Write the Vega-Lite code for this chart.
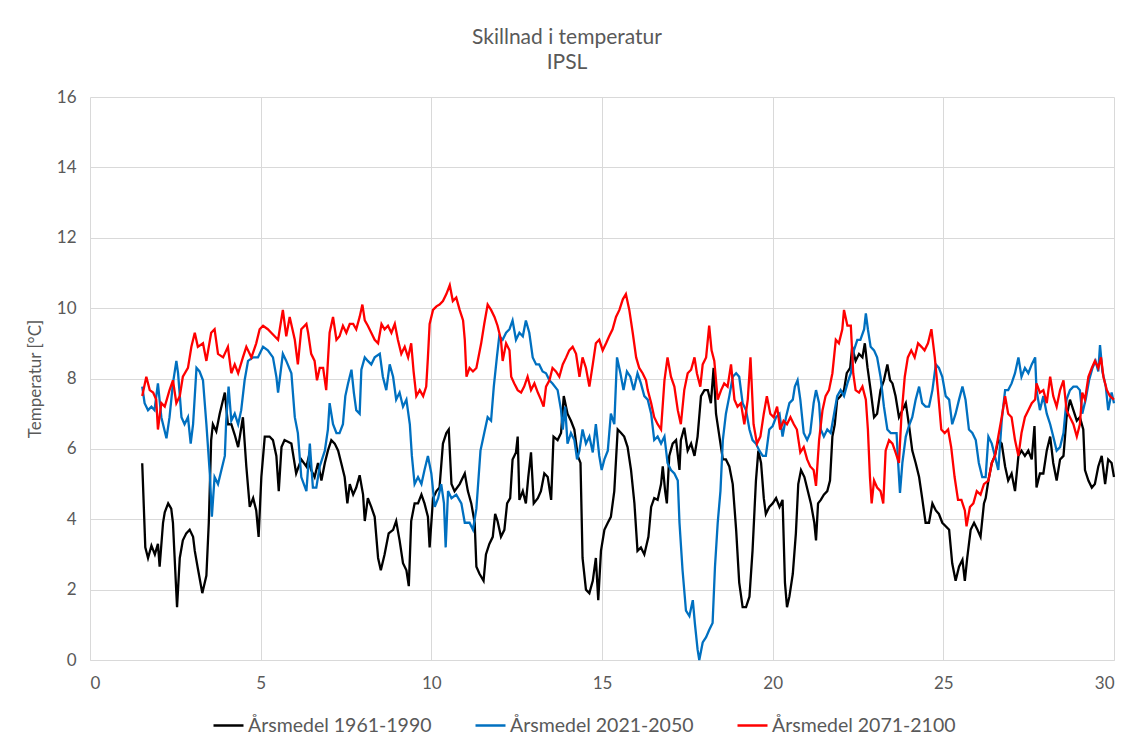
{
  "$schema": "https://vega.github.io/schema/vega-lite/v6.json",
  "width": 1024,
  "height": 563,
  "autosize": {"type": "none"},
  "padding": {"left": 90, "top": 97, "right": 16, "bottom": 85},
  "background": "white",
  "title": {"text": ["Skillnad i temperatur", "IPSL"], "font": "Lato", "fontSize": 21, "fontWeight": "normal", "color": "#595959", "anchor": "middle", "dx": -35, "offset": 15, "lineHeight": 25},
  "config": {
    "view": {"stroke": null},
    "axis": {"labelFont": "Lato", "labelFontSize": 17, "labelColor": "#595959", "gridColor": "#d9d9d9", "gridWidth": 1, "ticks": false, "titleFont": "Lato", "titleFontWeight": "normal", "titleColor": "#595959"},
    "legend": {"labelFont": "Lato", "labelFontSize": 19.5, "labelColor": "#595959", "labelLimit": 400}
  },
  "datasets": {
    "a": [
      {"x":1.53,"y":5.59},{"x":1.62,"y":3.2},{"x":1.70,"y":2.9},{"x":1.80,"y":3.25},{"x":1.90,"y":3.0},{"x":1.99,"y":3.3},{"x":2.04,"y":2.65},{"x":2.14,"y":3.9},{"x":2.19,"y":4.2},{"x":2.29,"y":4.45},{"x":2.38,"y":4.3},{"x":2.43,"y":3.9},{"x":2.48,"y":2.9},{"x":2.55,"y":1.5},{"x":2.63,"y":2.9},{"x":2.72,"y":3.4},{"x":2.82,"y":3.6},{"x":2.92,"y":3.7},{"x":3.02,"y":3.5},{"x":3.07,"y":3.1},{"x":3.16,"y":2.6},{"x":3.29,"y":1.9},{"x":3.41,"y":2.4},{"x":3.48,"y":3.9},{"x":3.55,"y":6.25},{"x":3.60,"y":6.7},{"x":3.70,"y":6.5},{"x":3.80,"y":7.0},{"x":3.95,"y":7.6},{"x":4.04,"y":6.7},{"x":4.14,"y":6.7},{"x":4.24,"y":6.4},{"x":4.34,"y":6.05},{"x":4.48,"y":6.9},{"x":4.58,"y":5.5},{"x":4.68,"y":4.35},{"x":4.78,"y":4.6},{"x":4.87,"y":4.25},{"x":4.94,"y":3.5},{"x":5.02,"y":5.2},{"x":5.12,"y":6.35},{"x":5.26,"y":6.35},{"x":5.36,"y":6.25},{"x":5.46,"y":5.8},{"x":5.53,"y":4.8},{"x":5.61,"y":6.05},{"x":5.70,"y":6.25},{"x":5.90,"y":6.15},{"x":6.04,"y":5.3},{"x":6.19,"y":5.7},{"x":6.34,"y":5.5},
      {"x":6.39,"y":5.7},{"x":6.48,"y":5.4},{"x":6.58,"y":5.2},{"x":6.68,"y":5.6},{"x":6.78,"y":5.1},{"x":6.88,"y":5.6},{"x":6.97,"y":5.95},{"x":7.07,"y":6.25},{"x":7.17,"y":6.15},{"x":7.27,"y":5.95},{"x":7.36,"y":5.6},{"x":7.46,"y":5.2},{"x":7.54,"y":4.45},{"x":7.61,"y":5.0},{"x":7.71,"y":4.7},{"x":7.80,"y":4.9},{"x":7.90,"y":5.25},{"x":8.00,"y":4.7},{"x":8.05,"y":3.95},{"x":8.14,"y":4.6},{"x":8.24,"y":4.35},{"x":8.34,"y":4.07},{"x":8.44,"y":2.9},{"x":8.52,"y":2.55},{"x":8.63,"y":3.0},{"x":8.75,"y":3.6},{"x":8.88,"y":3.7},{"x":8.97,"y":3.95},{"x":9.07,"y":3.4},{"x":9.17,"y":2.75},{"x":9.27,"y":2.55},{"x":9.34,"y":2.1},{"x":9.41,"y":3.95},{"x":9.51,"y":4.45},{"x":9.61,"y":4.45},{"x":9.71,"y":4.7},{"x":9.80,"y":4.45},{"x":9.90,"y":4.07},{"x":9.95,"y":3.2},{"x":10.05,"y":4.6},{"x":10.15,"y":4.8},{"x":10.24,"y":4.9},{"x":10.34,"y":6.15},{"x":10.44,"y":6.45},{"x":10.51,"y":6.55},{"x":10.59,"y":5.0},{"x":10.68,"y":4.8},{"x":10.83,"y":5.0},{"x":10.98,"y":5.3},{"x":11.07,"y":4.8},{"x":11.17,"y":4.45},{"x":11.27,"y":3.9},{"x":11.32,"y":2.65},
      {"x":11.41,"y":2.45},{"x":11.53,"y":2.25},{"x":11.60,"y":3.0},{"x":11.70,"y":3.3},{"x":11.80,"y":3.5},{"x":11.87,"y":4.15},{"x":11.94,"y":3.95},{"x":12.04,"y":3.5},{"x":12.14,"y":3.7},{"x":12.22,"y":4.45},{"x":12.31,"y":4.6},{"x":12.38,"y":5.7},{"x":12.48,"y":5.9},{"x":12.53,"y":6.35},{"x":12.58,"y":4.55},{"x":12.68,"y":4.8},{"x":12.77,"y":4.45},{"x":12.84,"y":5.2},{"x":12.92,"y":5.9},{"x":13.00,"y":4.45},{"x":13.12,"y":4.6},{"x":13.21,"y":4.8},{"x":13.31,"y":5.3},{"x":13.41,"y":5.2},{"x":13.51,"y":4.55},{"x":13.58,"y":6.35},{"x":13.70,"y":6.25},{"x":13.80,"y":6.45},{"x":13.88,"y":7.5},{"x":13.99,"y":7.0},{"x":14.09,"y":6.8},{"x":14.19,"y":6.55},{"x":14.29,"y":5.8},{"x":14.37,"y":5.6},{"x":14.43,"y":2.9},{"x":14.53,"y":2.0},{"x":14.63,"y":1.9},{"x":14.73,"y":2.25},{"x":14.82,"y":2.9},{"x":14.89,"y":1.7},{"x":14.97,"y":3.1},{"x":15.07,"y":3.7},{"x":15.17,"y":3.9},{"x":15.26,"y":4.07},{"x":15.36,"y":4.8},{"x":15.46,"y":6.55},{"x":15.56,"y":6.45},{"x":15.65,"y":6.35},{"x":15.75,"y":6.05},{"x":15.85,"y":5.4},{"x":15.95,"y":4.45},{"x":16.04,"y":3.1},{"x":16.14,"y":3.2},{"x":16.24,"y":3.0},
      {"x":16.36,"y":3.5},{"x":16.44,"y":4.35},{"x":16.53,"y":4.6},{"x":16.63,"y":4.55},{"x":16.73,"y":5.0},{"x":16.78,"y":5.5},{"x":16.85,"y":4.8},{"x":16.90,"y":4.45},{"x":16.97,"y":5.8},{"x":17.07,"y":6.15},{"x":17.17,"y":6.25},{"x":17.27,"y":5.4},{"x":17.31,"y":6.25},{"x":17.41,"y":6.6},{"x":17.51,"y":5.95},{"x":17.61,"y":6.15},{"x":17.71,"y":5.8},{"x":17.80,"y":6.35},{"x":17.90,"y":7.5},{"x":18.00,"y":7.67},{"x":18.10,"y":7.67},{"x":18.19,"y":7.3},{"x":18.27,"y":8.3},{"x":18.34,"y":7.0},{"x":18.44,"y":6.35},{"x":18.54,"y":5.7},{"x":18.63,"y":5.7},{"x":18.73,"y":5.5},{"x":18.83,"y":5.0},{"x":18.93,"y":3.7},{"x":19.02,"y":2.2},{"x":19.12,"y":1.5},{"x":19.22,"y":1.5},{"x":19.32,"y":1.8},{"x":19.41,"y":3.1},{"x":19.51,"y":5.1},{"x":19.58,"y":5.95},{"x":19.66,"y":5.6},{"x":19.74,"y":4.6},{"x":19.80,"y":4.15},{"x":19.90,"y":4.35},{"x":20.00,"y":4.45},{"x":20.10,"y":4.6},{"x":20.20,"y":4.35},{"x":20.29,"y":4.55},{"x":20.36,"y":2.2},{"x":20.42,"y":1.5},{"x":20.49,"y":1.8},{"x":20.59,"y":2.45},{"x":20.68,"y":3.6},{"x":20.75,"y":5.0},{"x":20.83,"y":5.4},{"x":20.93,"y":5.2},{"x":21.03,"y":4.8},{"x":21.12,"y":4.45},{"x":21.22,"y":3.9},{"x":21.27,"y":3.4},
      {"x":21.33,"y":4.45},{"x":21.41,"y":4.55},{"x":21.50,"y":4.7},{"x":21.60,"y":4.8},{"x":21.68,"y":5.1},{"x":21.75,"y":6.35},{"x":21.82,"y":6.7},{"x":21.89,"y":7.4},{"x":21.99,"y":7.5},{"x":22.09,"y":7.67},{"x":22.17,"y":8.15},{"x":22.27,"y":8.3},{"x":22.33,"y":8.9},{"x":22.43,"y":8.5},{"x":22.53,"y":8.7},{"x":22.63,"y":8.6},{"x":22.70,"y":9.0},{"x":22.78,"y":8.3},{"x":22.87,"y":7.67},{"x":22.97,"y":6.9},{"x":23.06,"y":7.0},{"x":23.16,"y":7.67},{"x":23.26,"y":7.95},{"x":23.36,"y":8.4},{"x":23.44,"y":7.95},{"x":23.51,"y":7.86},{"x":23.60,"y":7.5},{"x":23.70,"y":6.9},{"x":23.80,"y":7.1},{"x":23.90,"y":7.3},{"x":23.99,"y":6.7},{"x":24.09,"y":5.95},{"x":24.19,"y":5.6},{"x":24.29,"y":5.2},{"x":24.38,"y":4.6},{"x":24.48,"y":3.9},{"x":24.58,"y":3.9},{"x":24.68,"y":4.45},{"x":24.78,"y":4.25},{"x":24.87,"y":4.15},{"x":24.97,"y":3.9},{"x":25.07,"y":3.8},{"x":25.17,"y":3.7},{"x":25.26,"y":2.75},{"x":25.36,"y":2.25},{"x":25.46,"y":2.65},{"x":25.56,"y":2.85},{"x":25.63,"y":2.25},{"x":25.70,"y":2.9},{"x":25.80,"y":3.7},{"x":25.90,"y":3.9},{"x":26.00,"y":3.7},{"x":26.09,"y":3.5},{"x":26.19,"y":4.45},{"x":26.24,"y":4.6},
      {"x":26.32,"y":5.1},{"x":26.42,"y":5.6},{"x":26.51,"y":5.8},{"x":26.61,"y":6.25},{"x":26.71,"y":6.15},{"x":26.81,"y":5.5},{"x":26.90,"y":5.1},{"x":27.00,"y":5.3},{"x":27.10,"y":4.8},{"x":27.20,"y":5.8},{"x":27.29,"y":5.95},{"x":27.39,"y":5.8},{"x":27.49,"y":5.95},{"x":27.59,"y":5.7},{"x":27.67,"y":6.65},{"x":27.73,"y":4.9},{"x":27.83,"y":5.3},{"x":27.93,"y":5.3},{"x":28.03,"y":5.95},{"x":28.13,"y":6.35},{"x":28.22,"y":5.6},{"x":28.32,"y":5.1},{"x":28.42,"y":5.7},{"x":28.52,"y":5.8},{"x":28.61,"y":6.9},{"x":28.71,"y":7.4},{"x":28.81,"y":7.1},{"x":28.91,"y":6.8},{"x":29.00,"y":6.9},{"x":29.10,"y":6.55},{"x":29.15,"y":5.4},{"x":29.25,"y":5.1},{"x":29.35,"y":4.9},{"x":29.44,"y":5.0},{"x":29.54,"y":5.5},{"x":29.64,"y":5.8},{"x":29.74,"y":5.0},{"x":29.83,"y":5.7},{"x":29.93,"y":5.6},{"x":30.00,"y":5.2}
    ],
    "b": [
      {"x":1.53,"y":7.77},{"x":1.60,"y":7.3},{"x":1.70,"y":7.1},{"x":1.80,"y":7.2},{"x":1.89,"y":7.1},{"x":1.99,"y":7.86},{"x":2.09,"y":6.9},{"x":2.19,"y":6.5},{"x":2.24,"y":6.3},{"x":2.33,"y":6.9},{"x":2.43,"y":7.86},{"x":2.53,"y":8.5},{"x":2.58,"y":8.15},{"x":2.68,"y":6.9},{"x":2.77,"y":6.7},{"x":2.87,"y":6.9},{"x":2.95,"y":6.15},{"x":3.02,"y":6.7},{"x":3.12,"y":8.3},{"x":3.21,"y":8.2},{"x":3.31,"y":7.95},{"x":3.41,"y":6.7},{"x":3.51,"y":5.3},{"x":3.57,"y":4.07},{"x":3.65,"y":5.2},{"x":3.75,"y":5.0},{"x":3.85,"y":5.4},{"x":3.95,"y":5.8},{"x":3.99,"y":6.8},{"x":4.06,"y":7.77},{"x":4.14,"y":6.8},{"x":4.24,"y":7.0},{"x":4.34,"y":6.7},{"x":4.43,"y":7.1},{"x":4.53,"y":7.95},{"x":4.63,"y":8.5},{"x":4.78,"y":8.6},{"x":4.92,"y":8.6},{"x":5.07,"y":8.9},{"x":5.21,"y":8.8},{"x":5.36,"y":8.6},{"x":5.46,"y":8.05},{"x":5.51,"y":7.6},{"x":5.65,"y":8.7},{"x":5.75,"y":8.5},{"x":5.90,"y":8.15},{"x":6.00,"y":6.9},{"x":6.09,"y":6.45},{"x":6.19,"y":5.2},{"x":6.34,"y":4.8},
      {"x":6.44,"y":6.15},{"x":6.53,"y":4.9},{"x":6.63,"y":4.9},{"x":6.73,"y":5.5},{"x":6.88,"y":5.95},{"x":6.97,"y":6.55},{"x":7.02,"y":7.3},{"x":7.12,"y":6.7},{"x":7.22,"y":6.45},{"x":7.31,"y":6.45},{"x":7.41,"y":6.7},{"x":7.48,"y":7.5},{"x":7.56,"y":7.86},{"x":7.66,"y":8.25},{"x":7.73,"y":7.6},{"x":7.80,"y":7.1},{"x":7.90,"y":7.0},{"x":7.95,"y":8.25},{"x":8.05,"y":8.6},{"x":8.14,"y":8.5},{"x":8.24,"y":8.4},{"x":8.34,"y":8.6},{"x":8.49,"y":8.7},{"x":8.58,"y":8.05},{"x":8.68,"y":7.67},{"x":8.78,"y":8.4},{"x":8.88,"y":8.05},{"x":8.97,"y":7.4},{"x":9.07,"y":7.6},{"x":9.17,"y":7.2},{"x":9.27,"y":7.4},{"x":9.37,"y":6.7},{"x":9.43,"y":5.8},{"x":9.51,"y":5.0},{"x":9.61,"y":5.2},{"x":9.71,"y":5.0},{"x":9.80,"y":5.4},{"x":9.90,"y":5.8},{"x":10.00,"y":5.3},{"x":10.10,"y":4.35},{"x":10.20,"y":4.6},{"x":10.29,"y":5.0},{"x":10.37,"y":4.45},{"x":10.42,"y":3.2},{"x":10.49,"y":4.8},{"x":10.59,"y":4.6},{"x":10.73,"y":4.7},{"x":10.88,"y":4.45},{"x":10.98,"y":3.9},{"x":11.12,"y":3.9},{"x":11.22,"y":3.7},{"x":11.32,"y":4.3},
      {"x":11.44,"y":5.95},{"x":11.55,"y":6.45},{"x":11.65,"y":6.9},{"x":11.75,"y":6.8},{"x":11.83,"y":7.77},{"x":11.92,"y":8.6},{"x":11.99,"y":9.2},{"x":12.09,"y":9.1},{"x":12.19,"y":9.3},{"x":12.29,"y":9.4},{"x":12.38,"y":9.65},{"x":12.48,"y":9.1},{"x":12.58,"y":9.3},{"x":12.68,"y":9.2},{"x":12.77,"y":9.65},{"x":12.87,"y":9.3},{"x":12.97,"y":8.6},{"x":13.07,"y":8.4},{"x":13.16,"y":8.4},{"x":13.26,"y":8.2},{"x":13.36,"y":8.15},{"x":13.46,"y":7.95},{"x":13.55,"y":7.86},{"x":13.70,"y":7.67},{"x":13.80,"y":7.1},{"x":13.85,"y":6.55},{"x":13.92,"y":7.2},{"x":13.99,"y":6.15},{"x":14.09,"y":6.45},{"x":14.19,"y":6.25},{"x":14.27,"y":5.7},{"x":14.34,"y":5.95},{"x":14.43,"y":6.55},{"x":14.53,"y":6.15},{"x":14.63,"y":6.35},{"x":14.73,"y":5.9},{"x":14.82,"y":6.7},{"x":14.92,"y":5.8},{"x":14.99,"y":5.4},{"x":15.07,"y":5.7},{"x":15.17,"y":5.95},{"x":15.26,"y":7.0},{"x":15.36,"y":6.7},{"x":15.44,"y":8.6},{"x":15.54,"y":8.15},{"x":15.63,"y":7.67},{"x":15.73,"y":8.2},{"x":15.83,"y":8.05},{"x":15.93,"y":7.67},{"x":16.04,"y":8.15},{"x":16.14,"y":7.86},{"x":16.24,"y":7.5},
      {"x":16.34,"y":7.4},{"x":16.44,"y":7.0},{"x":16.53,"y":6.25},{"x":16.63,"y":6.35},{"x":16.73,"y":6.15},{"x":16.83,"y":6.35},{"x":16.92,"y":5.6},{"x":17.02,"y":5.4},{"x":17.12,"y":5.3},{"x":17.22,"y":5.1},{"x":17.27,"y":3.9},{"x":17.36,"y":2.55},{"x":17.46,"y":1.4},{"x":17.56,"y":1.25},{"x":17.66,"y":1.7},{"x":17.72,"y":1.05},{"x":17.80,"y":0.3},{"x":17.85,"y":0.0},{"x":17.95,"y":0.5},{"x":18.05,"y":0.65},{"x":18.14,"y":0.85},{"x":18.24,"y":1.05},{"x":18.31,"y":2.65},{"x":18.39,"y":3.9},{"x":18.47,"y":4.8},{"x":18.54,"y":6.25},{"x":18.63,"y":7.0},{"x":18.73,"y":7.5},{"x":18.83,"y":8.05},{"x":18.93,"y":8.15},{"x":19.02,"y":8.05},{"x":19.12,"y":7.3},{"x":19.22,"y":7.1},{"x":19.32,"y":6.55},{"x":19.41,"y":6.25},{"x":19.51,"y":6.15},{"x":19.61,"y":5.95},{"x":19.71,"y":5.8},{"x":19.80,"y":5.8},{"x":19.90,"y":6.55},{"x":20.00,"y":6.65},{"x":20.10,"y":6.9},{"x":20.20,"y":7.0},{"x":20.29,"y":6.35},{"x":20.39,"y":6.9},{"x":20.49,"y":7.3},{"x":20.59,"y":7.4},{"x":20.65,"y":7.77},{"x":20.73,"y":7.95},{"x":20.81,"y":7.4},{"x":20.91,"y":6.45},{"x":21.01,"y":6.25},{"x":21.10,"y":6.45},{"x":21.20,"y":7.3},{"x":21.27,"y":7.67},
      {"x":21.36,"y":7.3},{"x":21.41,"y":6.55},{"x":21.50,"y":6.35},{"x":21.60,"y":6.55},{"x":21.70,"y":6.45},{"x":21.80,"y":7.0},{"x":21.89,"y":7.5},{"x":21.99,"y":7.67},{"x":22.09,"y":7.5},{"x":22.19,"y":7.86},{"x":22.29,"y":8.15},{"x":22.38,"y":8.8},{"x":22.48,"y":9.1},{"x":22.57,"y":9.1},{"x":22.68,"y":9.4},{"x":22.73,"y":9.85},{"x":22.79,"y":9.4},{"x":22.87,"y":8.9},{"x":22.97,"y":8.8},{"x":23.06,"y":8.6},{"x":23.16,"y":8.05},{"x":23.26,"y":7.2},{"x":23.36,"y":6.55},{"x":23.46,"y":6.45},{"x":23.55,"y":6.45},{"x":23.63,"y":6.45},{"x":23.67,"y":5.7},{"x":23.73,"y":4.75},{"x":23.80,"y":5.6},{"x":23.90,"y":6.35},{"x":23.99,"y":6.65},{"x":24.09,"y":6.9},{"x":24.19,"y":7.4},{"x":24.29,"y":7.77},{"x":24.38,"y":7.3},{"x":24.48,"y":7.2},{"x":24.58,"y":7.2},{"x":24.68,"y":7.67},{"x":24.78,"y":8.4},{"x":24.87,"y":8.3},{"x":24.97,"y":8.05},{"x":25.07,"y":7.5},{"x":25.17,"y":7.4},{"x":25.26,"y":6.7},{"x":25.36,"y":7.0},{"x":25.46,"y":7.4},{"x":25.56,"y":7.77},{"x":25.65,"y":7.4},{"x":25.75,"y":6.55},{"x":25.85,"y":6.45},{"x":25.95,"y":6.25},{"x":26.04,"y":5.6},{"x":26.14,"y":5.2},{"x":26.24,"y":5.2},
      {"x":26.32,"y":6.35},{"x":26.42,"y":6.15},{"x":26.51,"y":5.8},{"x":26.61,"y":5.4},{"x":26.71,"y":6.8},{"x":26.81,"y":7.67},{"x":26.90,"y":7.67},{"x":27.00,"y":7.86},{"x":27.10,"y":8.15},{"x":27.20,"y":8.6},{"x":27.29,"y":8.05},{"x":27.39,"y":8.3},{"x":27.49,"y":8.15},{"x":27.59,"y":8.4},{"x":27.69,"y":8.6},{"x":27.73,"y":7.67},{"x":27.83,"y":7.1},{"x":27.93,"y":7.5},{"x":28.03,"y":7.0},{"x":28.13,"y":6.7},{"x":28.22,"y":6.35},{"x":28.32,"y":5.95},{"x":28.42,"y":6.05},{"x":28.52,"y":6.45},{"x":28.61,"y":7.4},{"x":28.71,"y":7.67},{"x":28.81,"y":7.77},{"x":28.91,"y":7.77},{"x":29.00,"y":7.67},{"x":29.07,"y":7.0},{"x":29.17,"y":7.4},{"x":29.27,"y":7.95},{"x":29.37,"y":8.3},{"x":29.46,"y":8.5},{"x":29.54,"y":8.2},{"x":29.59,"y":8.95},{"x":29.66,"y":8.2},{"x":29.76,"y":7.77},{"x":29.83,"y":7.1},{"x":29.93,"y":7.6},{"x":30.00,"y":7.3}
    ],
    "c": [
      {"x":1.53,"y":7.5},{"x":1.65,"y":8.05},{"x":1.75,"y":7.67},{"x":1.85,"y":7.6},{"x":1.94,"y":7.4},{"x":1.99,"y":6.55},{"x":2.09,"y":7.3},{"x":2.19,"y":7.2},{"x":2.33,"y":7.67},{"x":2.43,"y":7.95},{"x":2.53,"y":7.3},{"x":2.63,"y":7.5},{"x":2.72,"y":8.05},{"x":2.87,"y":8.3},{"x":2.97,"y":8.9},{"x":3.07,"y":9.3},{"x":3.16,"y":8.9},{"x":3.31,"y":9.0},{"x":3.41,"y":8.5},{"x":3.55,"y":9.3},{"x":3.65,"y":9.4},{"x":3.75,"y":8.7},{"x":3.90,"y":8.6},{"x":4.04,"y":8.9},{"x":4.14,"y":8.15},{"x":4.24,"y":8.4},{"x":4.34,"y":8.15},{"x":4.48,"y":8.6},{"x":4.58,"y":8.9},{"x":4.73,"y":8.6},{"x":4.87,"y":9.0},{"x":4.97,"y":9.4},{"x":5.07,"y":9.5},{"x":5.21,"y":9.4},{"x":5.31,"y":9.3},{"x":5.51,"y":9.1},{"x":5.65,"y":9.95},{"x":5.75,"y":9.2},{"x":5.85,"y":9.75},{"x":6.00,"y":9.1},{"x":6.09,"y":8.4},{"x":6.19,"y":9.4},{"x":6.34,"y":9.55},
      {"x":6.39,"y":9.3},{"x":6.48,"y":8.7},{"x":6.58,"y":8.5},{"x":6.65,"y":7.95},{"x":6.73,"y":8.3},{"x":6.83,"y":8.3},{"x":6.92,"y":7.67},{"x":7.02,"y":9.3},{"x":7.12,"y":9.75},{"x":7.22,"y":9.1},{"x":7.31,"y":9.2},{"x":7.41,"y":9.5},{"x":7.51,"y":9.3},{"x":7.61,"y":9.55},{"x":7.71,"y":9.55},{"x":7.80,"y":9.4},{"x":7.90,"y":9.75},{"x":7.98,"y":10.1},{"x":8.05,"y":9.65},{"x":8.14,"y":9.5},{"x":8.24,"y":9.3},{"x":8.34,"y":9.1},{"x":8.44,"y":9.0},{"x":8.54,"y":9.55},{"x":8.63,"y":9.4},{"x":8.73,"y":9.5},{"x":8.83,"y":9.3},{"x":8.93,"y":9.55},{"x":9.02,"y":9.1},{"x":9.12,"y":8.7},{"x":9.22,"y":8.9},{"x":9.32,"y":8.6},{"x":9.41,"y":9.0},{"x":9.48,"y":8.2},{"x":9.56,"y":7.5},{"x":9.66,"y":7.67},{"x":9.76,"y":7.5},{"x":9.85,"y":7.77},{"x":9.90,"y":8.6},{"x":9.95,"y":9.55},{"x":10.05,"y":9.95},{"x":10.15,"y":10.05},{"x":10.24,"y":10.1},{"x":10.34,"y":10.2},{"x":10.44,"y":10.4},{"x":10.54,"y":10.65},{"x":10.63,"y":10.2},{"x":10.73,"y":10.3},{"x":10.83,"y":9.95},{"x":10.93,"y":9.65},{"x":10.98,"y":9.1},{"x":11.03,"y":8.05},{"x":11.12,"y":8.3},{"x":11.22,"y":8.2},{"x":11.32,"y":8.3},
      {"x":11.46,"y":9.0},{"x":11.55,"y":9.55},{"x":11.65,"y":10.1},{"x":11.75,"y":9.95},{"x":11.85,"y":9.75},{"x":11.94,"y":9.5},{"x":12.04,"y":9.1},{"x":12.09,"y":8.5},{"x":12.19,"y":9.0},{"x":12.29,"y":8.8},{"x":12.34,"y":8.05},{"x":12.43,"y":7.86},{"x":12.53,"y":7.67},{"x":12.63,"y":7.6},{"x":12.72,"y":7.77},{"x":12.82,"y":8.05},{"x":12.92,"y":7.67},{"x":13.02,"y":7.86},{"x":13.12,"y":7.6},{"x":13.21,"y":7.4},{"x":13.29,"y":7.2},{"x":13.36,"y":7.77},{"x":13.46,"y":7.95},{"x":13.55,"y":8.3},{"x":13.65,"y":8.2},{"x":13.75,"y":8.05},{"x":13.85,"y":8.4},{"x":13.95,"y":8.6},{"x":14.04,"y":8.8},{"x":14.14,"y":8.9},{"x":14.24,"y":8.7},{"x":14.34,"y":8.05},{"x":14.43,"y":8.6},{"x":14.53,"y":8.3},{"x":14.63,"y":7.77},{"x":14.73,"y":8.4},{"x":14.82,"y":9.0},{"x":14.92,"y":9.1},{"x":15.02,"y":8.8},{"x":15.12,"y":9.0},{"x":15.21,"y":9.2},{"x":15.31,"y":9.4},{"x":15.41,"y":9.75},{"x":15.51,"y":9.95},{"x":15.61,"y":10.25},{"x":15.70,"y":10.4},{"x":15.80,"y":9.95},{"x":15.90,"y":9.3},{"x":16.00,"y":8.6},{"x":16.09,"y":8.3},{"x":16.19,"y":8.15},{"x":16.29,"y":7.95},
      {"x":16.34,"y":7.67},{"x":16.44,"y":7.3},{"x":16.53,"y":6.9},{"x":16.63,"y":6.7},{"x":16.73,"y":6.55},{"x":16.83,"y":7.95},{"x":16.92,"y":8.6},{"x":17.02,"y":8.05},{"x":17.12,"y":7.77},{"x":17.22,"y":7.1},{"x":17.31,"y":6.7},{"x":17.41,"y":7.67},{"x":17.51,"y":8.15},{"x":17.61,"y":8.25},{"x":17.71,"y":8.6},{"x":17.78,"y":8.15},{"x":17.88,"y":7.77},{"x":17.95,"y":8.4},{"x":18.05,"y":8.6},{"x":18.14,"y":9.5},{"x":18.21,"y":8.8},{"x":18.29,"y":8.5},{"x":18.39,"y":7.4},{"x":18.49,"y":7.67},{"x":18.58,"y":7.86},{"x":18.68,"y":7.77},{"x":18.78,"y":8.4},{"x":18.88,"y":7.4},{"x":18.97,"y":7.2},{"x":19.07,"y":7.3},{"x":19.17,"y":6.7},{"x":19.27,"y":7.4},{"x":19.35,"y":8.6},{"x":19.44,"y":6.7},{"x":19.54,"y":6.15},{"x":19.64,"y":6.35},{"x":19.74,"y":7.0},{"x":19.83,"y":7.5},{"x":19.93,"y":7.0},{"x":20.03,"y":6.9},{"x":20.13,"y":7.2},{"x":20.22,"y":6.55},{"x":20.32,"y":6.8},{"x":20.42,"y":6.7},{"x":20.52,"y":6.9},{"x":20.62,"y":6.7},{"x":20.71,"y":6.55},{"x":20.81,"y":5.9},{"x":20.91,"y":6.05},{"x":21.01,"y":5.7},{"x":21.10,"y":5.5},{"x":21.20,"y":5.4},{"x":21.27,"y":4.95},
      {"x":21.36,"y":6.25},{"x":21.46,"y":7.1},{"x":21.55,"y":7.5},{"x":21.65,"y":7.67},{"x":21.75,"y":8.15},{"x":21.85,"y":9.1},{"x":21.94,"y":9.0},{"x":22.04,"y":9.4},{"x":22.09,"y":9.95},{"x":22.19,"y":9.5},{"x":22.29,"y":9.5},{"x":22.36,"y":8.15},{"x":22.43,"y":7.67},{"x":22.53,"y":7.6},{"x":22.63,"y":7.77},{"x":22.73,"y":7.4},{"x":22.79,"y":6.55},{"x":22.85,"y":5.2},{"x":22.90,"y":4.45},{"x":22.97,"y":5.1},{"x":23.06,"y":4.9},{"x":23.16,"y":4.8},{"x":23.24,"y":4.45},{"x":23.31,"y":5.95},{"x":23.41,"y":6.25},{"x":23.51,"y":6.15},{"x":23.60,"y":5.9},{"x":23.70,"y":5.6},{"x":23.77,"y":6.9},{"x":23.87,"y":8.05},{"x":23.96,"y":8.6},{"x":24.06,"y":8.8},{"x":24.16,"y":8.6},{"x":24.26,"y":9.0},{"x":24.36,"y":8.9},{"x":24.45,"y":8.8},{"x":24.55,"y":9.0},{"x":24.65,"y":9.4},{"x":24.75,"y":8.6},{"x":24.84,"y":7.67},{"x":24.94,"y":6.55},{"x":25.04,"y":6.45},{"x":25.14,"y":6.55},{"x":25.23,"y":6.05},{"x":25.33,"y":5.2},{"x":25.43,"y":4.55},{"x":25.53,"y":4.55},{"x":25.63,"y":4.25},{"x":25.68,"y":3.8},{"x":25.78,"y":4.35},{"x":25.88,"y":4.45},{"x":25.98,"y":4.8},{"x":26.09,"y":4.7},{"x":26.19,"y":5.0},
      {"x":26.32,"y":5.1},{"x":26.42,"y":5.6},{"x":26.51,"y":5.8},{"x":26.61,"y":6.35},{"x":26.71,"y":6.9},{"x":26.81,"y":7.5},{"x":26.90,"y":7.0},{"x":27.00,"y":6.9},{"x":27.10,"y":6.25},{"x":27.20,"y":5.8},{"x":27.29,"y":6.45},{"x":27.39,"y":6.9},{"x":27.49,"y":7.1},{"x":27.59,"y":7.3},{"x":27.69,"y":7.4},{"x":27.73,"y":7.86},{"x":27.83,"y":7.6},{"x":27.93,"y":7.67},{"x":28.03,"y":7.3},{"x":28.13,"y":8.05},{"x":28.22,"y":7.5},{"x":28.32,"y":7.2},{"x":28.42,"y":7.67},{"x":28.52,"y":7.95},{"x":28.61,"y":7.1},{"x":28.71,"y":6.9},{"x":28.81,"y":6.7},{"x":28.91,"y":6.35},{"x":29.00,"y":6.7},{"x":29.07,"y":7.6},{"x":29.15,"y":7.4},{"x":29.25,"y":8.05},{"x":29.35,"y":8.3},{"x":29.44,"y":8.5},{"x":29.54,"y":8.3},{"x":29.62,"y":8.6},{"x":29.69,"y":8.05},{"x":29.79,"y":7.67},{"x":29.88,"y":7.5},{"x":30.00,"y":7.4}
    ]
  },
  "encoding": {
    "x": {"field": "x", "type": "quantitative", "scale": {"domain": [0, 30], "nice": false, "zero": false},
          "axis": {"values": [0, 5, 10, 15, 20, 25, 30], "title": null, "domainColor": "#d9d9d9", "labelPadding": 15, "grid": true}},
    "y": {"field": "y", "type": "quantitative", "scale": {"domain": [0, 16], "nice": false},
          "axis": {"values": [0, 2, 4, 6, 8, 10, 12, 14, 16], "title": "Temperatur [°C]", "titleFontSize": 17, "titlePadding": 12, "domain": false, "labelPadding": 14, "grid": true}}
  },
  "layer": [
    {"data": {"name": "a"}, "mark": {"type": "line", "strokeWidth": 2.3, "interpolate": "linear"},
     "encoding": {"color": {"datum": "Årsmedel 1961-1990", "type": "nominal",
       "scale": {"domain": ["Årsmedel 1961-1990", "Årsmedel 2021-2050", "Årsmedel 2071-2100"], "range": ["#000000", "#0070C0", "#FF0000"]},
       "legend": {"title": null, "orient": "none", "legendX": 122, "legendY": 612, "padding": 0, "direction": "horizontal", "symbolType": "stroke", "symbolStrokeWidth": 2.5, "symbolSize": 900, "columnPadding": 38, "labelOffset": 3, "labelLimit": 400}}}},
    {"data": {"name": "b"}, "mark": {"type": "line", "strokeWidth": 2.3, "interpolate": "linear"},
     "encoding": {"color": {"datum": "Årsmedel 2021-2050", "type": "nominal"}}},
    {"data": {"name": "c"}, "mark": {"type": "line", "strokeWidth": 2.3, "interpolate": "linear"},
     "encoding": {"color": {"datum": "Årsmedel 2071-2100", "type": "nominal"}}}
  ]
}
